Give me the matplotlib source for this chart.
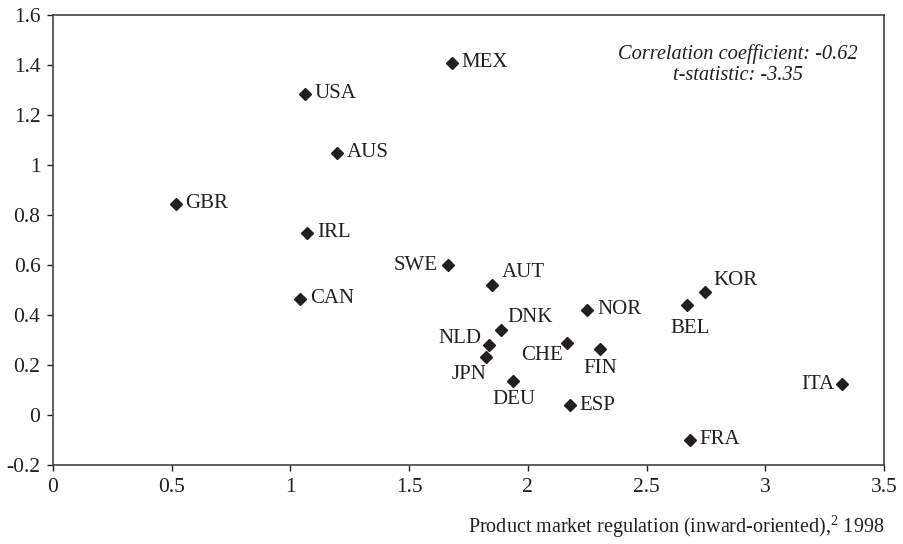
import matplotlib.pyplot as plt

plt.rcParams['font.family'] = ['Liberation Serif', 'DejaVu Serif']
plt.rcParams['mathtext.fontset'] = 'custom'
plt.rcParams['mathtext.rm'] = 'Liberation Serif'

# === Data ===
countries = ["MEX", "USA", "AUS", "GBR", "IRL", "SWE", "AUT", "CAN", "KOR", "BEL",
             "ITA", "FRA", "NOR", "DNK", "NLD", "JPN", "CHE", "FIN", "DEU", "ESP"]
pmr = [1.68, 1.06, 1.195, 0.517, 1.07, 1.665, 1.848, 1.04, 2.746, 2.67,
       3.325, 2.683, 2.25, 1.886, 1.838, 1.824, 2.163, 2.303, 1.936, 2.178]
yvals = [1.41, 1.285, 1.05, 0.845, 0.73, 0.60, 0.52, 0.465, 0.493, 0.44,
         0.123, -0.10, 0.422, 0.342, 0.282, 0.233, 0.29, 0.263, 0.138, 0.04]

x_ticks = [0, 0.5, 1, 1.5, 2, 2.5, 3, 3.5]
x_ticklabels = ["0", "0.5", "1", "1.5", "2", "2.5", "3", "3.5"]
y_ticks = [-0.2, 0, 0.2, 0.4, 0.6, 0.8, 1, 1.2, 1.4, 1.6]
y_ticklabels = ["-0.2", "0", "0.2", "0.4", "0.6", "0.8", "1", "1.2", "1.4", "1.6"]

# label placement: (dx, dy) in points, horizontal alignment
label_pos = {
    "SWE": (-8, 0, 'right'), "ITA": (-6, 0, 'right'), "NLD": (-6, 4, 'right'),
    "JPN": (0, -13, 'right'), "CHE": (-3, -9, 'right'), "FIN": (0, -14, 'center'),
    "DEU": (1, -14, 'center'), "BEL": (2, -17, 'center'), "AUT": (7, 9, 'left'),
    "DNK": (5, 9, 'left'), "KOR": (6, 8, 'left'),
}

ink = '#231f20'

fig = plt.figure(figsize=(9.04, 5.44), dpi=100)
ax = fig.add_axes([53 / 904, 1 - 465 / 544, 831 / 904, 450 / 544])

ax.plot(pmr, yvals, linestyle='none', marker='D', markersize=6.5, color=ink)

for name, xv, yv in zip(countries, pmr, yvals):
    dx, dy, ha = label_pos.get(name, (7, 0, 'left'))
    ax.annotate(name, (xv, yv), xytext=(dx, dy), textcoords='offset points',
                ha=ha, va='center', fontsize=15, color=ink)

ax.text(0.824, 0.889, "Correlation coefficient: -0.62\nt-statistic: -3.35",
        transform=ax.transAxes, ha='center', va='center', fontsize=14.7,
        style='italic', color=ink, linespacing=1.15)

ax.set_xlim(0, 3.5)
ax.set_ylim(-0.2, 1.6)
ax.set_xticks(x_ticks)
ax.set_xticklabels(x_ticklabels)
ax.set_yticks(y_ticks)
ax.set_yticklabels(y_ticklabels)
ax.tick_params(direction='out', length=4, width=1, colors=ink, labelsize=15.5, pad=5)

for s in ax.spines.values():
    s.set_color('#444444')
    s.set_linewidth(1.2)

ax.set_xlabel("Product market regulation (inward-oriented),$^{2}$ 1998",
              loc='right', fontsize=14.5, color=ink, labelpad=12)

fig.savefig("out.png", dpi=100)
